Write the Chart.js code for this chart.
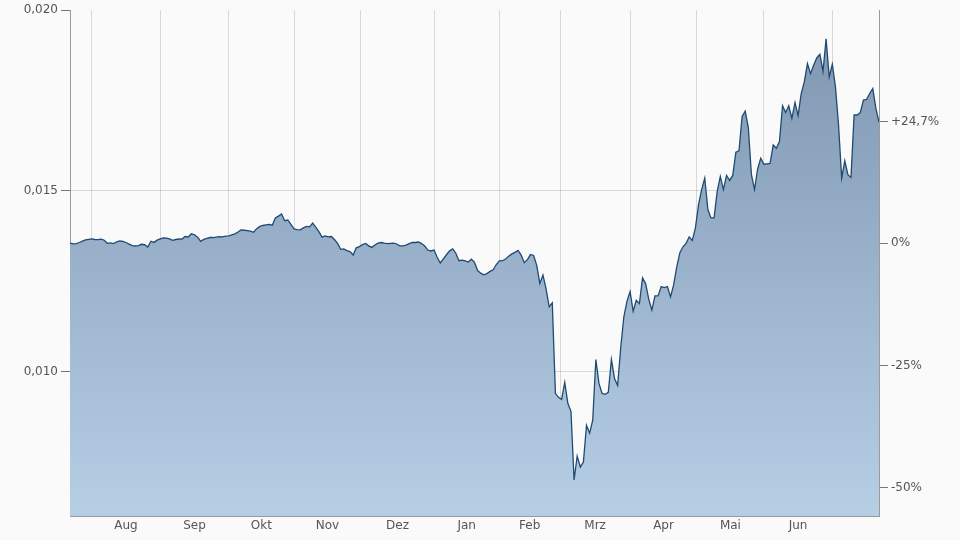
<!DOCTYPE html>
<html>
<head>
<meta charset="utf-8">
<script src="https://cdn.jsdelivr.net/npm/chart.js@4/dist/chart.umd.min.js"></script>
<style>
  html, body { margin: 0; padding: 0; background: #fafafa; }
  #chart { display: block; }
</style>
</head>
<body>
<canvas id="chart" width="960" height="540"></canvas>
<script>
const months = ["Aug", "Sep", "Okt", "Nov", "Dez", "Jan", "Feb", "Mrz", "Apr", "Mai", "Jun"];
// trading-day index where each month starts (last entry = start of the following July)
const monthStarts = [7, 29, 51, 72, 93.5, 117, 138, 157.5, 180, 201.5, 223, 245];

const prices = [
  0.013554, 0.013534, 0.013540, 0.013570, 0.013606, 0.013642, 0.013658, 0.013669, 0.013653, 0.013650,
  0.013664, 0.013634, 0.013548, 0.013559, 0.013540, 0.013590, 0.013612, 0.013603, 0.013570, 0.013526,
  0.013482, 0.013474, 0.013485, 0.013521, 0.013510, 0.013446, 0.013606, 0.013573, 0.013634, 0.013669,
  0.013700, 0.013694, 0.013672, 0.013631, 0.013653, 0.013667, 0.013664, 0.013736, 0.013722, 0.013810,
  0.013785, 0.013716, 0.013601, 0.013656, 0.013686, 0.013708, 0.013708, 0.013719, 0.013730, 0.013725,
  0.013744, 0.013752, 0.013780, 0.013810, 0.013860, 0.013920, 0.013909, 0.013898, 0.013887, 0.013854,
  0.013953, 0.014017, 0.014041, 0.014058, 0.014072, 0.014050, 0.014251, 0.014300, 0.014361, 0.014174,
  0.014193, 0.014069, 0.013945, 0.013926, 0.013920, 0.013975, 0.014014, 0.014003, 0.014105, 0.013986,
  0.013871, 0.013719, 0.013755, 0.013725, 0.013736, 0.013653, 0.013546, 0.013380, 0.013394, 0.013347,
  0.013317, 0.013223, 0.013424, 0.013455, 0.013512, 0.013543, 0.013477, 0.013435, 0.013501, 0.013554,
  0.013570, 0.013551, 0.013537, 0.013548, 0.013551, 0.013529, 0.013479, 0.013479, 0.013496, 0.013540,
  0.013576, 0.013570, 0.013584, 0.013540, 0.013471, 0.013361, 0.013336, 0.013361, 0.013160, 0.013003,
  0.013119, 0.013231, 0.013339, 0.013391, 0.013273, 0.013066, 0.013083, 0.013063, 0.013030, 0.013107,
  0.013019, 0.012793, 0.012722, 0.012675, 0.012708, 0.012771, 0.012815, 0.012961, 0.013063, 0.013066,
  0.013113, 0.013193, 0.013256, 0.013298, 0.013350, 0.013220, 0.013011, 0.013097, 0.013237, 0.013212,
  0.012939, 0.012438, 0.012672, 0.012287, 0.011791, 0.011901, 0.009394, 0.009284, 0.009229, 0.009697,
  0.009119, 0.008898, 0.006997, 0.007658, 0.007355, 0.007493, 0.008512, 0.008292, 0.008650, 0.010331,
  0.009669, 0.009394, 0.009366, 0.009422, 0.010331, 0.009807, 0.009614, 0.010661, 0.011515, 0.011942,
  0.012212, 0.011667, 0.011970, 0.011879, 0.012590, 0.012433, 0.012003, 0.011700, 0.012094, 0.012094,
  0.012350, 0.012322, 0.012350, 0.012066, 0.012397, 0.012893, 0.013287, 0.013452, 0.013546, 0.013727,
  0.013628, 0.013975, 0.014620, 0.015033, 0.015353, 0.014482, 0.014251, 0.014251, 0.014986, 0.015399,
  0.015033, 0.015427, 0.015289, 0.015427, 0.016069, 0.016107, 0.017052, 0.017209, 0.016749, 0.015446,
  0.015033, 0.015606, 0.015904, 0.015738, 0.015749, 0.015758, 0.016273, 0.016179, 0.016364, 0.017355,
  0.017171, 0.017355, 0.017006, 0.017446, 0.017080, 0.017694, 0.018017, 0.018521, 0.018245, 0.018477,
  0.018678, 0.018780, 0.018311, 0.019209, 0.018154, 0.018504, 0.017879, 0.016824, 0.015353, 0.015832,
  0.015446, 0.015372, 0.017099, 0.017099, 0.017171, 0.017512, 0.017529, 0.017694, 0.017832, 0.017281,
  0.016906
];

const priceTicks = [0.010, 0.015, 0.020];
const pctTicks = [0, -25, -50];

const monthMids = months.map((m, i) => (monthStarts[i] + monthStarts[i + 1]) / 2);
const base = prices[0];
const last = prices[prices.length - 1];
const fmt = (v, d) => v.toFixed(d).replace(".", ",");

const rightTicks = [
  { value: last, text: "+" + fmt((last / base - 1) * 100, 1) + "%" },
  ...pctTicks.map((p) => ({ value: base * (1 + p / 100), text: p + "%" })),
];

const gridColor = "rgba(0,0,0,0.135)";
const axisColor = "#9a9a9a";
const textColor = "#555";
const font = { family: "'DejaVu Sans', Verdana, sans-serif", size: 12 };

Chart.defaults.font.family = font.family;

new Chart(document.getElementById("chart"), {
  type: "line",
  data: {
    datasets: [
      {
        data: prices.map((p, i) => ({ x: i, y: p })),
        borderColor: "#1f4a72",
        borderWidth: 1.3,
        pointRadius: 0,
        tension: 0,
        fill: "start",
        backgroundColor: (ctx) => {
          const area = ctx.chart.chartArea;
          if (!area) return "#9fb4cb";
          const g = ctx.chart.ctx.createLinearGradient(0, area.top, 0, area.bottom);
          g.addColorStop(0, "#7e94b0");
          g.addColorStop(1, "#b6cfe5");
          return g;
        },
      },
    ],
  },
  options: {
    responsive: false,
    animation: false,
    layout: { padding: { top: 8, left: 0, right: 0, bottom: 0 } },
    plugins: { legend: { display: false }, tooltip: { enabled: false } },
    scales: {
      x: {
        type: "linear",
        min: 0,
        max: prices.length - 1,
        z: 1,
        afterBuildTicks: (scale) => {
          scale.ticks = monthStarts
            .concat(monthMids)
            .sort((a, b) => a - b)
            .map((v) => ({ value: v }));
        },
        afterFit: (scale) => { scale.height = 24; },
        grid: {
          drawTicks: false,
          color: (ctx) => (ctx.tick && monthStarts.includes(ctx.tick.value) ? gridColor : "transparent"),
        },
        border: { color: axisColor, width: 1 },
        ticks: {
          autoSkip: false,
          maxRotation: 0,
          padding: 3,
          color: textColor,
          font: font,
          callback: (value) => {
            const k = monthMids.indexOf(value);
            return k >= 0 ? months[k] : "";
          },
        },
      },
      y: {
        position: "left",
        min: 0.006,
        max: 0.020,
        z: 1,
        afterBuildTicks: (scale) => {
          scale.ticks = priceTicks.map((v) => ({ value: v }));
        },
        afterFit: (scale) => { scale.width = 70; },
        grid: {
          tickLength: 9,
          tickColor: "#777",
          color: (ctx) => (ctx.tick && ctx.tick.value >= 0.02 ? "transparent" : gridColor),
        },
        border: { color: axisColor, width: 1 },
        ticks: {
          padding: 3,
          color: textColor,
          font: font,
          callback: (value) => fmt(value, 3),
        },
      },
      y2: {
        position: "right",
        min: 0.006,
        max: 0.020,
        z: 1,
        afterBuildTicks: (scale) => {
          scale.ticks = rightTicks.map((t) => ({ value: t.value }));
        },
        afterFit: (scale) => { scale.width = 81; },
        grid: { drawOnChartArea: false, tickLength: 9, tickColor: "#777" },
        border: { color: axisColor, width: 1 },
        ticks: {
          padding: 3,
          color: textColor,
          font: font,
          callback: (value, index) => rightTicks[index].text,
        },
      },
    },
  },
});
</script>
</body>
</html>
